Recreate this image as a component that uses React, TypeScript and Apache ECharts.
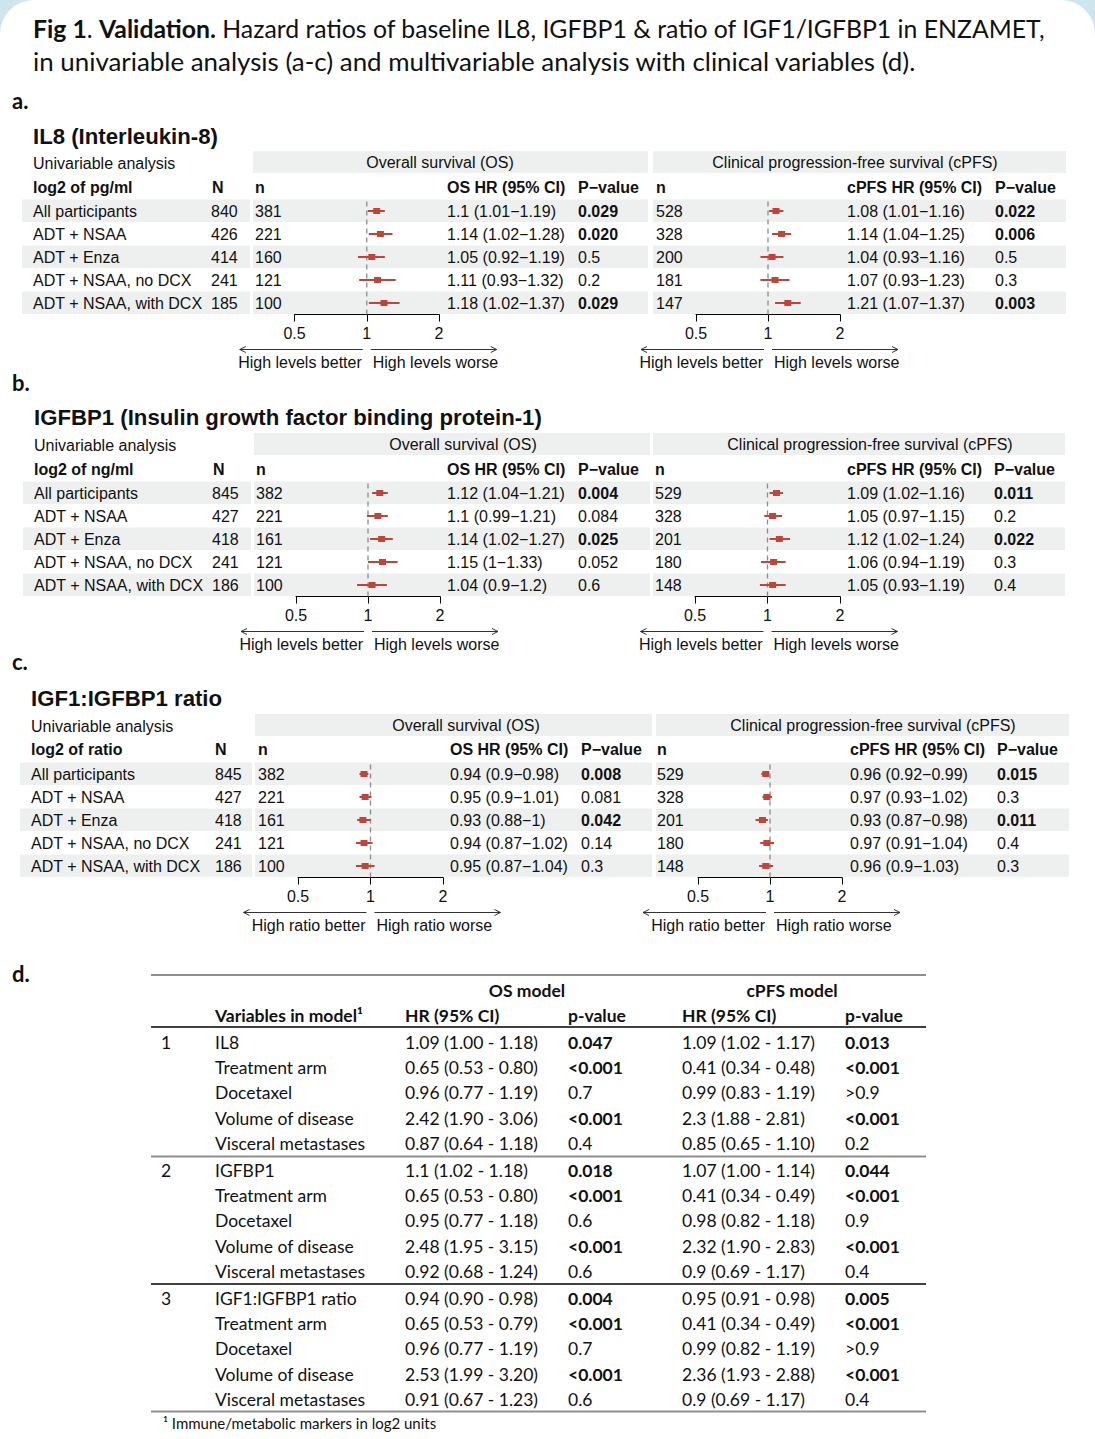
import React, { useEffect, useRef } from "react";
import * as echarts from "echarts";

// ---------------- DATA ----------------
const subgroups = ["All participants", "ADT + NSAA", "ADT + Enza", "ADT + NSAA, no DCX", "ADT + NSAA, with DCX"];
const axisTicks = [0.5, 1, 2];

// a. IL8
const il8N = [840, 426, 414, 241, 185];
const il8OsN = [381, 221, 160, 121, 100];
const il8OsHR = [1.1, 1.14, 1.05, 1.11, 1.18];
const il8OsLo = [1.01, 1.02, 0.92, 0.93, 1.02];
const il8OsHi = [1.19, 1.28, 1.19, 1.32, 1.37];
const il8OsP = ["0.029", "0.020", "0.5", "0.2", "0.029"];
const il8PfsN = [528, 328, 200, 181, 147];
const il8PfsHR = [1.08, 1.14, 1.04, 1.07, 1.21];
const il8PfsLo = [1.01, 1.04, 0.93, 0.93, 1.07];
const il8PfsHi = [1.16, 1.25, 1.16, 1.23, 1.37];
const il8PfsP = ["0.022", "0.006", "0.5", "0.3", "0.003"];

// b. IGFBP1
const igfbpN = [845, 427, 418, 241, 186];
const igfbpOsN = [382, 221, 161, 121, 100];
const igfbpOsHR = [1.12, 1.1, 1.14, 1.15, 1.04];
const igfbpOsLo = [1.04, 0.99, 1.02, 1, 0.9];
const igfbpOsHi = [1.21, 1.21, 1.27, 1.33, 1.2];
const igfbpOsP = ["0.004", "0.084", "0.025", "0.052", "0.6"];
const igfbpPfsN = [529, 328, 201, 180, 148];
const igfbpPfsHR = [1.09, 1.05, 1.12, 1.06, 1.05];
const igfbpPfsLo = [1.02, 0.97, 1.02, 0.94, 0.93];
const igfbpPfsHi = [1.16, 1.15, 1.24, 1.19, 1.19];
const igfbpPfsP = ["0.011", "0.2", "0.022", "0.3", "0.4"];

// c. IGF1:IGFBP1 ratio
const ratioN = [845, 427, 418, 241, 186];
const ratioOsN = [382, 221, 161, 121, 100];
const ratioOsHR = [0.94, 0.95, 0.93, 0.94, 0.95];
const ratioOsLo = [0.9, 0.9, 0.88, 0.87, 0.87];
const ratioOsHi = [0.98, 1.01, 1, 1.02, 1.04];
const ratioOsP = ["0.008", "0.081", "0.042", "0.14", "0.3"];
const ratioPfsN = [529, 328, 201, 180, 148];
const ratioPfsHR = [0.96, 0.97, 0.93, 0.97, 0.96];
const ratioPfsLo = [0.92, 0.93, 0.87, 0.91, 0.9];
const ratioPfsHi = [0.99, 1.02, 0.98, 1.04, 1.03];
const ratioPfsP = ["0.015", "0.3", "0.011", "0.4", "0.3"];

// d. multivariable models
const modelNumbers = ["1", "2", "3"];
const modelMarkers = ["IL8", "IGFBP1", "IGF1:IGFBP1 ratio"];
const clinicalVars = ["Treatment arm", "Docetaxel", "Volume of disease", "Visceral metastases"];
const model1OsHR = ["1.09 (1.00 - 1.18)", "0.65 (0.53 - 0.80)", "0.96 (0.77 - 1.19)", "2.42 (1.90 - 3.06)", "0.87 (0.64 - 1.18)"];
const model1OsP = ["0.047", "<0.001", "0.7", "<0.001", "0.4"];
const model1PfsHR = ["1.09 (1.02 - 1.17)", "0.41 (0.34 - 0.48)", "0.99 (0.83 - 1.19)", "2.3 (1.88 - 2.81)", "0.85 (0.65 - 1.10)"];
const model1PfsP = ["0.013", "<0.001", ">0.9", "<0.001", "0.2"];
const model2OsHR = ["1.1 (1.02 - 1.18)", "0.65 (0.53 - 0.80)", "0.95 (0.77 - 1.18)", "2.48 (1.95 - 3.15)", "0.92 (0.68 - 1.24)"];
const model2OsP = ["0.018", "<0.001", "0.6", "<0.001", "0.6"];
const model2PfsHR = ["1.07 (1.00 - 1.14)", "0.41 (0.34 - 0.49)", "0.98 (0.82 - 1.18)", "2.32 (1.90 - 2.83)", "0.9 (0.69 - 1.17)"];
const model2PfsP = ["0.044", "<0.001", "0.9", "<0.001", "0.4"];
const model3OsHR = ["0.94 (0.90 - 0.98)", "0.65 (0.53 - 0.79)", "0.96 (0.77 - 1.19)", "2.53 (1.99 - 3.20)", "0.91 (0.67 - 1.23)"];
const model3OsP = ["0.004", "<0.001", "0.7", "<0.001", "0.6"];
const model3PfsHR = ["0.95 (0.91 - 0.98)", "0.41 (0.34 - 0.49)", "0.99 (0.82 - 1.19)", "2.36 (1.93 - 2.88)", "0.9 (0.69 - 1.17)"];
const model3PfsP = ["0.005", "<0.001", ">0.9", "<0.001", "0.4"];

// ---------------- STYLE / LAYOUT ----------------
const RED = "#c0443a";
const BAND = "#eef0f0";
const INK = "#111111";
const SANS = "Liberation Sans, Arial, sans-serif";
const CAL = "Lato, sans-serif";
const FS = 16;

const panels = [
  {
    tag: "a.", tagY: 100, title: "IL8 (Interleukin-8)", titleY: 136, subY: 163, headY: 187, rowTop: 199.5,
    unit: "log2 of pg/ml", better: "High levels better", worse: "High levels worse",
    bandHead: 151, osTitleX: 440, pfsTitleX: 855,
    bands: { left: [22, 250], os: [253, 648], pfs: [653, 1066] },
    col: { label: 33, N: 211, Nh: 212, n: 255, osHR: 447, osP: 578, pn: 656, pHR: 847, pP: 995 },
    osAxis: [294.5, 439], pfsAxis: [696, 840],
    N: il8N,
    os: { n: il8OsN, hr: il8OsHR, lo: il8OsLo, hi: il8OsHi, p: il8OsP },
    pfs: { n: il8PfsN, hr: il8PfsHR, lo: il8PfsLo, hi: il8PfsHi, p: il8PfsP },
  },
  {
    tag: "b.", tagY: 382, title: "IGFBP1 (Insulin growth factor binding protein-1)", titleY: 417, subY: 445, headY: 469, rowTop: 481.5,
    unit: "log2 of ng/ml", better: "High levels better", worse: "High levels worse",
    bandHead: 433, osTitleX: 463, pfsTitleX: 870,
    bands: { left: [23, 251], os: [254, 650], pfs: [653, 1065] },
    col: { label: 34, N: 212, Nh: 213, n: 256, osHR: 447, osP: 578, pn: 655, pHR: 847, pP: 994 },
    osAxis: [296, 440], pfsAxis: [695, 840],
    N: igfbpN,
    os: { n: igfbpOsN, hr: igfbpOsHR, lo: igfbpOsLo, hi: igfbpOsHi, p: igfbpOsP },
    pfs: { n: igfbpPfsN, hr: igfbpPfsHR, lo: igfbpPfsLo, hi: igfbpPfsHi, p: igfbpPfsP },
  },
  {
    tag: "c.", tagY: 661, title: "IGF1:IGFBP1 ratio", titleY: 698, subY: 726, headY: 749, rowTop: 762.5,
    unit: "log2 of ratio", better: "High ratio better", worse: "High ratio worse",
    bandHead: 714, osTitleX: 466, pfsTitleX: 873,
    bands: { left: [20, 252], os: [255, 652], pfs: [656, 1069] },
    col: { label: 31, N: 215, Nh: 215, n: 258, osHR: 450, osP: 581, pn: 657, pHR: 850, pP: 997 },
    osAxis: [298, 443], pfsAxis: [698, 842],
    N: ratioN,
    os: { n: ratioOsN, hr: ratioOsHR, lo: ratioOsLo, hi: ratioOsHi, p: ratioOsP },
    pfs: { n: ratioPfsN, hr: ratioPfsHR, lo: ratioPfsLo, hi: ratioPfsHi, p: ratioPfsP },
  },
];

const ROW_H = 23;
const NROWS = 5;

function isSig(p: string) {
  if (p.startsWith("<")) return true;
  if (p.startsWith(">")) return false;
  return parseFloat(p) < 0.05;
}
function textEl(x: number, y: number, text: string, size: number, weight = "normal", family = SANS, align = "left", color = INK, z = 5) {
  return {
    type: "text",
    z,
    style: {
      text, x, y, fontSize: size, fontWeight: weight, fontFamily: family, fill: color,
      textAlign: align, align, textVerticalAlign: "middle", verticalAlign: "middle",
    },
  };
}
function ciText(hr: number, lo: number, hi: number) {
  return `${hr} (${lo}\u2212${hi})`;
}

function buildOption() {
  const grids: any[] = [];
  const xAxes: any[] = [];
  const yAxes: any[] = [];
  const series: any[] = [];
  const g: any[] = [];

  // page background with light-blue top corners
  g.push({ type: "rect", z: -10, shape: { x: 0, y: 0, width: 1095, height: 80 }, style: { fill: "#cfe5ee" } });
  g.push({ type: "rect", z: -9, shape: { x: 0, y: 0, width: 1095, height: 1439, r: [34, 34, 0, 0] }, style: { fill: "#ffffff" } });

  // caption
  const CAP1 = 24.8;
  const CAP2 = 25.9;
  const capRich = {
    b: { fontWeight: "bold", fontSize: CAP1, fontFamily: CAL, fill: INK },
    n: { fontWeight: "normal", fontSize: CAP1, fontFamily: CAL, fill: INK },
  };
  g.push({
    type: "text", z: 5,
    style: {
      text: "{b|Fig 1}{n|. }{b|Validation.}{n| Hazard ratios of baseline IL8, IGFBP1 & ratio of IGF1/IGFBP1 in ENZAMET,}",
      x: 33, y: 28, rich: capRich, fontSize: CAP1, fontFamily: CAL, fill: INK,
      textVerticalAlign: "middle", verticalAlign: "middle",
    },
  });
  g.push(textEl(33, 61, "in univariable analysis (a-c) and multivariable analysis with clinical variables (d).", CAP2, "normal", CAL));

  panels.forEach((P) => {
    const axisY = P.rowTop + ROW_H * NROWS;
    g.push(textEl(12, P.tagY, P.tag, 22, "bold", CAL));
    g.push(textEl(P.col.label, P.titleY, P.title, 22.2, "bold"));
    g.push(textEl(P.col.label, P.subY, "Univariable analysis", FS));
    // header bands
    g.push({ type: "rect", z: 0, shape: { x: P.bands.os[0], y: P.bandHead, width: P.bands.os[1] - P.bands.os[0], height: 22 }, style: { fill: BAND } });
    g.push({ type: "rect", z: 0, shape: { x: P.bands.pfs[0], y: P.bandHead, width: P.bands.pfs[1] - P.bands.pfs[0], height: 22 }, style: { fill: BAND } });
    g.push(textEl(P.osTitleX, P.bandHead + 11.5, "Overall survival (OS)", FS, "normal", SANS, "center"));
    g.push(textEl(P.pfsTitleX, P.bandHead + 11.5, "Clinical progression-free survival (cPFS)", FS, "normal", SANS, "center"));
    // column headers
    g.push(textEl(P.col.label, P.headY, P.unit, FS, "bold"));
    g.push(textEl(P.col.Nh, P.headY, "N", FS, "bold"));
    g.push(textEl(P.col.n, P.headY, "n", FS, "bold"));
    g.push(textEl(P.col.osHR, P.headY, "OS HR (95% CI)", FS, "bold"));
    g.push(textEl(P.col.osP, P.headY, "P\u2212value", FS, "bold"));
    g.push(textEl(P.col.pn, P.headY, "n", FS, "bold"));
    g.push(textEl(P.col.pHR, P.headY, "cPFS HR (95% CI)", FS, "bold"));
    g.push(textEl(P.col.pP, P.headY, "P\u2212value", FS, "bold"));
    // row bands
    for (let r = 0; r < NROWS; r += 2) {
      const y = P.rowTop + r * ROW_H;
      ([P.bands.left, P.bands.os, P.bands.pfs] as number[][]).forEach((b) => {
        g.push({ type: "rect", z: 0, shape: { x: b[0], y, width: b[1] - b[0], height: ROW_H - 0.5 }, style: { fill: BAND } });
      });
    }

    const sections = [
      { ax: P.osAxis, d: P.os, nX: P.col.n, hrX: P.col.osHR, pX: P.col.osP, withLabels: true },
      { ax: P.pfsAxis, d: P.pfs, nX: P.col.pn, hrX: P.col.pHR, pX: P.col.pP, withLabels: false },
    ];
    sections.forEach((S) => {
      const gi = grids.length;
      grids.push({ left: S.ax[0], width: S.ax[1] - S.ax[0], top: P.rowTop, height: ROW_H * NROWS, containLabel: false });
      xAxes.push({
        type: "log", logBase: 2, min: axisTicks[0], max: axisTicks[axisTicks.length - 1], gridIndex: gi,
        axisLine: { show: true, lineStyle: { color: "#000", width: 1 } },
        axisTick: { show: true, inside: false, length: 7, lineStyle: { color: "#000", width: 1 } },
        axisLabel: { show: true, fontSize: FS, fontFamily: SANS, color: INK, margin: 11, formatter: (v: number) => String(+v.toFixed(3)) },
        splitLine: { show: false },
      });
      yAxes.push({ type: "category", inverse: true, gridIndex: gi, data: subgroups, show: false });
      const d = S.d;
      series.push({
        type: "custom",
        xAxisIndex: gi,
        yAxisIndex: gi,
        z: 5,
        clip: false,
        data: d.hr.map((h: number, i: number) => [h, d.lo[i], d.hi[i], i]),
        encode: { x: [0, 1, 2], y: 3 },
        renderItem: (params: any, api: any) => {
          const i = params.dataIndex;
          const row = api.value(3);
          const c = api.coord([api.value(0), row]);
          const l = api.coord([api.value(1), row]);
          const h = api.coord([api.value(2), row]);
          const cs = params.coordSys;
          const ch: any[] = [];
          if (i === 0) {
            const x1 = api.coord([1, row])[0];
            ch.push({ type: "line", shape: { x1, y1: cs.y + 2, x2: x1, y2: cs.y + cs.height }, style: { stroke: "#8c8c8c", lineWidth: 1.3, lineDash: [5, 4] } });
          }
          ch.push({ type: "line", shape: { x1: l[0], y1: l[1], x2: h[0], y2: h[1] }, style: { stroke: RED, lineWidth: 2 } });
          ch.push({ type: "rect", shape: { x: c[0] - 3.5, y: c[1] - 3, width: 7, height: 6 }, style: { fill: RED } });
          const y = c[1];
          const t = (x: number, s: string, w = "normal") => ({
            type: "text",
            style: { text: s, x, y, fontSize: FS, fontWeight: w, fontFamily: SANS, fill: INK, textAlign: "left", align: "left", textVerticalAlign: "middle", verticalAlign: "middle" },
          });
          if (S.withLabels) {
            ch.push(t(P.col.label, subgroups[i]));
            ch.push(t(P.col.N, String(P.N[i])));
          }
          ch.push(t(S.nX, String(d.n[i])));
          ch.push(t(S.hrX, ciText(d.hr[i], d.lo[i], d.hi[i])));
          ch.push(t(S.pX, d.p[i], isSig(d.p[i]) ? "bold" : "normal"));
          return { type: "group", children: ch };
        },
      });
      // direction arrows + labels
      const x1 = (S.ax[0] + S.ax[1]) / 2;
      const ay = axisY + 35;
      const stroke = { stroke: "#333", lineWidth: 1 };
      g.push({ type: "line", z: 5, shape: { x1: x1 - 127, y1: ay, x2: x1 - 4, y2: ay }, style: stroke });
      g.push({ type: "polyline", z: 5, shape: { points: [[x1 - 121, ay - 3], [x1 - 127, ay], [x1 - 121, ay + 3]] }, style: { ...stroke, fill: null } });
      g.push({ type: "line", z: 5, shape: { x1: x1 + 4, y1: ay, x2: x1 + 130, y2: ay }, style: stroke });
      g.push({ type: "polyline", z: 5, shape: { points: [[x1 + 124, ay - 3], [x1 + 130, ay], [x1 + 124, ay + 3]] }, style: { ...stroke, fill: null } });
      g.push(textEl(x1 - 5, axisY + 47.5, P.better, FS, "normal", SANS, "right"));
      g.push(textEl(x1 + 6, axisY + 47.5, P.worse, FS, "normal", SANS, "left"));
    });
  });

  // ---------- panel d: multivariable table ----------
  const DF = 17.5;
  const dCol = { num: 161, v: 215, osHR: 405, osP: 568, pHR: 682, pP: 845 };
  const L = 151, R = 926;
  g.push(textEl(12, 973, "d.", 22, "bold", CAL));
  g.push({ type: "line", z: 5, shape: { x1: L, y1: 975, x2: R, y2: 975 }, style: { stroke: "#8f8f8f", lineWidth: 2 } });
  g.push(textEl(527, 990, "OS model", DF, "bold", CAL, "center"));
  g.push(textEl(792, 990, "cPFS model", DF, "bold", CAL, "center"));
  g.push(textEl(dCol.v, 1015, "Variables in model\u00b9", DF, "bold", CAL));
  g.push(textEl(dCol.osHR, 1015, "HR (95% CI)", DF, "bold", CAL));
  g.push(textEl(dCol.osP, 1015, "p-value", DF, "bold", CAL));
  g.push(textEl(dCol.pHR, 1015, "HR (95% CI)", DF, "bold", CAL));
  g.push(textEl(dCol.pP, 1015, "p-value", DF, "bold", CAL));
  g.push({ type: "line", z: 5, shape: { x1: L, y1: 1027, x2: R, y2: 1027 }, style: { stroke: "#000", lineWidth: 1.5 } });

  const models = [
    { osHR: model1OsHR, osP: model1OsP, pHR: model1PfsHR, pP: model1PfsP },
    { osHR: model2OsHR, osP: model2OsP, pHR: model2PfsHR, pP: model2PfsP },
    { osHR: model3OsHR, osP: model3OsP, pHR: model3PfsHR, pP: model3PfsP },
  ];
  const sepStyles = [
    { stroke: "#8f8f8f", lineWidth: 2 },
    { stroke: "#000", lineWidth: 1.5 },
    { stroke: "#8f8f8f", lineWidth: 2 },
  ];
  models.forEach((m, mi) => {
    const y0 = 1042 + mi * 128;
    const vars = [modelMarkers[mi], ...clinicalVars];
    g.push(textEl(dCol.num, y0, modelNumbers[mi], DF, "normal", CAL));
    vars.forEach((v, r) => {
      const y = y0 + r * 25.4;
      g.push(textEl(dCol.v, y, v, DF, "normal", CAL));
      g.push(textEl(dCol.osHR, y, m.osHR[r], DF, "normal", CAL));
      g.push(textEl(dCol.osP, y, m.osP[r], DF, isSig(m.osP[r]) ? "bold" : "normal", CAL));
      g.push(textEl(dCol.pHR, y, m.pHR[r], DF, "normal", CAL));
      g.push(textEl(dCol.pP, y, m.pP[r], DF, isSig(m.pP[r]) ? "bold" : "normal", CAL));
    });
    const ly = 1156.5 + mi * 127.5;
    g.push({ type: "line", z: 5, shape: { x1: L, y1: ly, x2: R, y2: ly }, style: sepStyles[mi] });
  });
  g.push(textEl(163, 1423, "\u00b9 Immune/metabolic markers in log2 units", 15, "normal", CAL));

  return {
    animation: false,
    grid: grids,
    xAxis: xAxes,
    yAxis: yAxes,
    series,
    graphic: { elements: g },
  };
}

export default function App() {
  const ref = useRef<HTMLDivElement>(null);
  useEffect(() => {
    if (!ref.current) return;
    const chart = echarts.init(ref.current, undefined, { renderer: "svg", width: 1095, height: 1439 });
    chart.setOption(buildOption() as any);
    return () => chart.dispose();
  }, []);
  return <div ref={ref} style={{ position: "absolute", left: 0, top: 0, width: 1095, height: 1439, background: "#fff" }} />;
}
